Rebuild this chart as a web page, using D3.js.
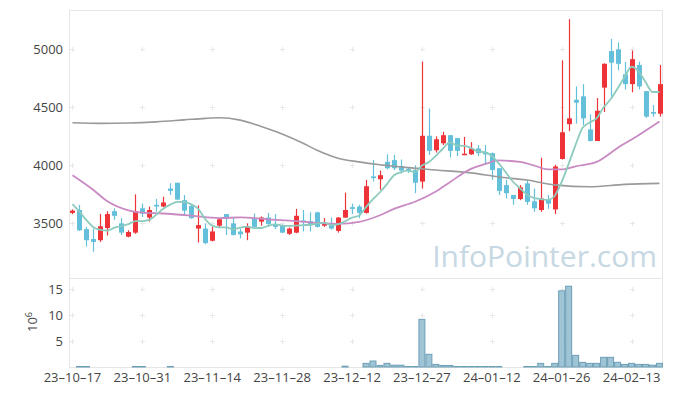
<!DOCTYPE html>
<html>
<head>
<meta charset="utf-8">
<script src="https://cdnjs.cloudflare.com/ajax/libs/d3/7.8.5/d3.min.js"></script>
<style>
  body { margin: 0; background: #fff; }
  text { font-family: "Open Sans", sans-serif; }
</style>
</head>
<body>
<svg id="chart" width="673" height="396"></svg>
<script>
// trading days (yy-mm-dd)
const dates = [
  "23-10-17","23-10-18","23-10-19","23-10-20","23-10-23","23-10-24","23-10-25","23-10-26","23-10-27","23-10-30",
  "23-10-31","23-11-01","23-11-02","23-11-03","23-11-06","23-11-07","23-11-08","23-11-09","23-11-10","23-11-13",
  "23-11-14","23-11-15","23-11-16","23-11-17","23-11-20","23-11-21","23-11-22","23-11-23","23-11-24","23-11-27",
  "23-11-28","23-11-29","23-11-30","23-12-01","23-12-04","23-12-05","23-12-06","23-12-07","23-12-08","23-12-11",
  "23-12-12","23-12-13","23-12-14","23-12-15","23-12-18","23-12-19","23-12-20","23-12-21","23-12-22","23-12-26",
  "23-12-27","23-12-28","24-01-02","24-01-03","24-01-04","24-01-05","24-01-08","24-01-09","24-01-10","24-01-11",
  "24-01-12","24-01-15","24-01-16","24-01-17","24-01-18","24-01-19","24-01-22","24-01-23","24-01-24","24-01-25",
  "24-01-26","24-01-29","24-01-30","24-01-31","24-02-01","24-02-02","24-02-05","24-02-06","24-02-07","24-02-08",
  "24-02-13","24-02-14","24-02-15","24-02-16","24-02-19"
];

const opens = [
  3590,3615,3450,3365,3355,3460,3605,3500,3385,3420,
  3630,3550,3660,3645,3800,3850,3700,3650,3455,3455,
  3350,3480,3580,3500,3430,3420,3545,3515,3550,3495,
  3485,3410,3420,3525,3520,3595,3480,3495,3435,3550,
  3640,3645,3590,3905,3880,4030,4045,3995,3970,3960,
  3860,4255,4130,4190,4260,4235,4095,4095,4145,4115,
  4105,3975,3830,3745,3710,3845,3690,3615,3705,3620,
  4055,4355,4565,4595,4310,4210,4670,4985,5000,4785,
  4700,4865,4640,4460,4445
];
const highs = [
  3620,3660,3470,3455,3580,3605,3630,3545,3440,3750,
  3670,3645,3710,3730,3845,3850,3745,3670,3655,3500,
  3470,3545,3580,3545,3455,3500,3585,3560,3590,3580,
  3490,3465,3625,3615,3595,3600,3545,3550,3555,3765,
  3670,3660,3875,4045,3955,4095,4090,4050,3985,4000,
  4895,4490,4250,4290,4260,4235,4245,4200,4175,4175,
  4110,3975,3875,3745,3830,3875,3800,4065,3745,4005,
  4905,5260,4680,4700,4440,4580,4880,5090,5060,4890,
  4990,4895,4640,4520,4865
];
const lows = [
  3580,3435,3300,3255,3340,3395,3530,3400,3380,3410,
  3555,3515,3600,3640,3745,3700,3570,3540,3335,3320,
  3345,3465,3400,3395,3370,3355,3465,3480,3475,3450,
  3415,3400,3415,3430,3430,3465,3470,3445,3420,3545,
  3580,3545,3585,3860,3790,3965,3960,3930,3935,3760,
  3800,4090,4110,4175,4070,4080,4095,4090,4080,4015,
  3875,3745,3715,3660,3700,3660,3600,3600,3625,3580,
  4050,4295,4360,4345,4205,4210,4460,4590,4820,4655,
  4630,4655,4410,4420,4420
];
const closes = [
  3610,3440,3355,3340,3475,3580,3565,3420,3425,3605,
  3585,3615,3645,3680,3780,3705,3610,3545,3485,3330,
  3430,3535,3545,3400,3405,3475,3470,3550,3495,3470,
  3420,3455,3565,3515,3485,3470,3500,3455,3550,3615,
  3625,3590,3820,3890,3915,3975,3975,3955,3955,3850,
  4255,4125,4225,4260,4125,4125,4100,4145,4105,4095,
  3960,3780,3760,3710,3810,3685,3630,3715,3670,3990,
  4285,4405,4540,4405,4210,4470,4875,4885,4875,4700,
  4915,4680,4420,4445,4700
];
// volume, millions of shares
const volumes = [
  0,0.1,0.1,0,0,0,0,0,0,0.1,
  0.1,0,0,0,0.1,0,0,0,0,0,
  0,0,0,0,0,0,0,0,0,0,
  0,0,0,0,0,0,0,0,0,0.15,
  0,0,0.7,1.15,0.3,0.7,0.35,0.35,0.1,0.1,
  9.2,2.45,0.5,0.3,0.3,0.1,0.1,0.1,0.1,0.1,
  0.1,0.1,0,0,0,0.1,0.1,0.7,0.1,0.7,
  14.7,15.6,2.25,0.9,0.7,0.7,1.87,1.87,0.9,0.5,
  0.7,0.5,0.5,0.35,0.7
];
// closes of the 4 sessions before the first one (for the 5-day average)
const prevCloses = [3770, 3720, 3640, 3590];
// 20-day and 120-day averages: [day index, value]
const ma20Points = [
  [0,3914],[3,3787],[5,3690],[8,3612],[10,3592],[13,3585],[17,3567],[21,3545],
  [24,3552],[28,3535],[32,3520],[36,3500],[38,3495],[41,3512],[44,3570],[46,3625],
  [49,3686],[52,3775],[54,3855],[57,3970],[59,4010],[61,4042],[64,4030],[66,4000],
  [68,3966],[70,3966],[72,3992],[75,4030],[78,4150],[81,4260],[84,4378]
];
const ma120Points = [
  [0,4367],[4,4362],[8,4365],[12,4375],[16,4392],[19,4405],[21,4410],[24,4390],
  [27,4335],[30,4270],[33,4190],[35,4130],[38,4062],[41,4030],[44,4005],[48,3980],
  [52,3960],[57,3935],[61,3900],[65,3873],[69,3832],[74,3816],[79,3836],[84,3845]
];
const priceTicks = [3500, 4000, 4500, 5000];
const volTicks = [5, 10, 15];
const xTickIdx = [0, 10, 20, 30, 40, 50, 60, 70, 80];

const plotLeft = 69, plotRight = 663, plotTop = 10, plotMid = 278, plotBottom = 367;
const upColor = "#ee3338", downColor = "#64c0da";

const svg = d3.select("#chart");

const x = d3.scaleBand().domain(d3.range(dates.length)).range([plotLeft, plotRight]);
const cx = i => x(i) + x.bandwidth() / 2;
const y = d3.scaleLinear().domain([3029, 5339]).range([plotMid, plotTop]);
const yv = d3.scaleLinear().domain([0, 17.18]).range([plotBottom, plotMid]);

// frame
const frame = svg.append("g").attr("stroke", "#e6e6e6").attr("fill", "none");
frame.append("rect").attr("x", plotLeft + 0.5).attr("y", plotTop + 0.5)
  .attr("width", plotRight - plotLeft - 1).attr("height", plotBottom - plotTop);
frame.append("line").attr("x1", plotLeft).attr("x2", plotRight)
  .attr("y1", plotMid + 0.5).attr("y2", plotMid + 0.5);

// little "+" grid marks
function plusMarks(ys, scale) {
  const pts = [];
  xTickIdx.forEach(i => ys.forEach(v => pts.push([cx(i), scale(v)])));
  svg.append("g").attr("stroke", "#e8e8e8").attr("stroke-width", 1)
    .selectAll("path").data(pts).enter().append("path")
    .attr("d", d => `M${Math.round(d[0]) - 2},${Math.round(d[1]) + 0.5}h5M${Math.round(d[0]) + 0.5},${Math.round(d[1]) - 2}v5`);
}
plusMarks(priceTicks, y);
plusMarks(volTicks, yv);

// watermark
svg.append("text")
  .attr("x", 657).attr("y", 267)
  .attr("text-anchor", "end")
  .attr("font-size", 30)
  .attr("fill", "#c6d8e3")
  .text("InfoPointer.com");

// axes labels
const axisG = svg.append("g").attr("font-size", 13).attr("fill", "#444");
axisG.selectAll(".py").data(priceTicks).enter().append("text")
  .attr("x", 63).attr("y", d => y(d)).attr("dy", "0.35em")
  .attr("text-anchor", "end").text(d => d);
axisG.selectAll(".vy").data(volTicks).enter().append("text")
  .attr("x", 63).attr("y", d => yv(d)).attr("dy", "0.35em")
  .attr("text-anchor", "end").text(d => d);
axisG.selectAll(".xl").data(xTickIdx).enter().append("text")
  .attr("x", d => cx(d)).attr("y", 382)
  .attr("text-anchor", "middle")
  .text(d => dates[d].replace(/-/g, "\u2013"));

const expLabel = axisG.append("text")
  .attr("transform", "translate(37,322) rotate(-90)")
  .attr("text-anchor", "middle");
expLabel.append("tspan").text("10");
expLabel.append("tspan").attr("font-size", 9).attr("dy", -5).text("6");

// volume bars
svg.append("g").selectAll("rect")
  .data(d3.range(dates.length).filter(i => volumes[i] > 0))
  .enter().append("rect")
  .attr("x", i => x(i) + 0.5)
  .attr("width", x.bandwidth() - 1)
  .attr("y", i => yv(volumes[i]))
  .attr("height", i => plotBottom - yv(volumes[i]))
  .attr("fill", "#9ec4d6")
  .attr("stroke", "#6d9fb6")
  .attr("stroke-width", 1);

// candles
const candle = svg.append("g").selectAll("g")
  .data(d3.range(dates.length)).enter().append("g")
  .attr("fill", i => closes[i] >= opens[i] ? upColor : downColor)
  .attr("stroke", i => closes[i] >= opens[i] ? upColor : downColor);
candle.append("line")
  .attr("x1", i => Math.round(cx(i)) + 0.5).attr("x2", i => Math.round(cx(i)) + 0.5)
  .attr("y1", i => y(highs[i])).attr("y2", i => y(lows[i]))
  .attr("stroke-width", 1.2);
candle.append("rect")
  .attr("stroke", "none")
  .attr("x", i => Math.round(cx(i)) - 2)
  .attr("width", 5)
  .attr("y", i => y(Math.max(opens[i], closes[i])))
  .attr("height", i => Math.max(1.5, Math.abs(y(opens[i]) - y(closes[i]))));

// moving averages
const allCloses = prevCloses.concat(closes);
const ma5 = closes.map((c, i) => [i, d3.mean(allCloses.slice(i, i + 5))]);
const line = d3.line().x(d => cx(d[0])).y(d => y(d[1])).curve(d3.curveMonotoneX);

svg.append("path").datum(ma120Points).attr("d", line)
  .attr("fill", "none").attr("stroke", "#9a9a9a").attr("stroke-width", 1.6);
svg.append("path").datum(ma20Points).attr("d", line)
  .attr("fill", "none").attr("stroke", "#c98ac4").attr("stroke-width", 1.8);
svg.append("path").datum(ma5).attr("d", line)
  .attr("fill", "none").attr("stroke", "#8ccbbd").attr("stroke-width", 1.8);
</script>
</body>
</html>
